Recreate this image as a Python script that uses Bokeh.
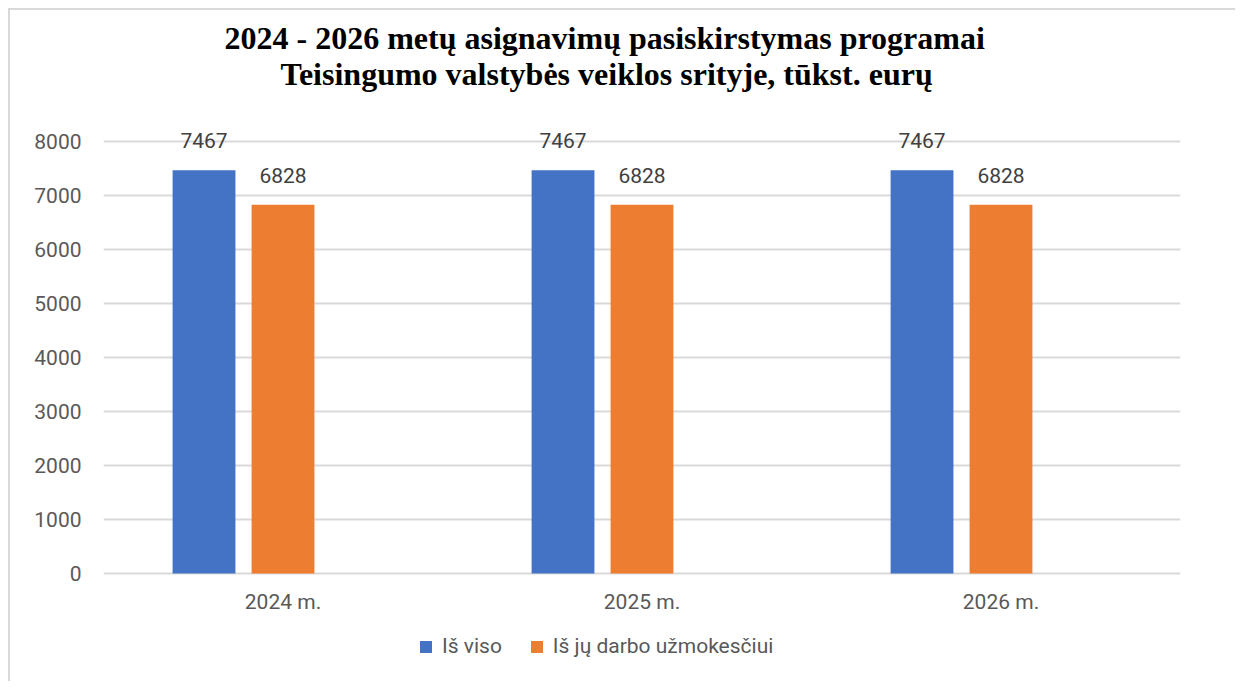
from bokeh.plotting import figure
from bokeh.models import FactorRange, Range1d, FixedTicker, Legend, LegendItem, ColumnDataSource, Title
from bokeh.transform import dodge
from bokeh.core.properties import value
from bokeh.embed import file_html
from bokeh.resources import INLINE

# ---- data ----
years = ["2024 m.", "2025 m.", "2026 m."]
total = [7467, 7467, 7467]
salary = [6828, 6828, 6828]
series_names = ["Iš viso", "Iš jų darbo užmokesčiui"]
y_ticks = [0, 1000, 2000, 3000, 4000, 5000, 6000, 7000, 8000]
title_line1 = "2024 - 2026 metų asignavimų pasiskirstymas programai"
title_line2 = "Teisingumo valstybės veiklos srityje, tūkst. eurų"

BLUE = "#4472C4"
ORANGE = "#ED7D31"
GRID = "#D9D9D9"
TXT = "#595959"
FONT = "Roboto"

# layout (canvas pixels)
H = 673
FRAME_TOP = 101    # frame top (above the 8000 line so data labels are not clipped)
TOP_TICK_Y = 131   # where 8000 sits
ZERO = 563         # where 0 sits
BOTTOM_BORDER = 13
frame_bottom = H - BOTTOM_BORDER
px_per_unit = (ZERO - TOP_TICK_Y) / y_ticks[-1]
y_max = (ZERO - FRAME_TOP) / px_per_unit
y_min = -(frame_bottom - ZERO) / px_per_unit

src = ColumnDataSource(dict(
    year=years, total=total, salary=salary,
    total_lbl=[str(v) for v in total], salary_lbl=[str(v) for v in salary],
))

p = figure(
    width=1227, height=H,
    x_range=FactorRange(*years, range_padding=0),
    y_range=Range1d(y_min, y_max),
    output_backend="svg", toolbar_location=None,
    min_border_left=93, min_border_right=57, min_border_top=FRAME_TOP,
    min_border_bottom=BOTTOM_BORDER,
)
p.styles = {"border-top": "2px solid #D9D9D9", "border-left": "2px solid #D9D9D9",
            "margin-left": "8px", "margin-top": "8px"}
p.outline_line_color = None
p.background_fill_color = "white"
p.border_fill_color = "white"

# title: line 1 is the figure title (outer), line 2 added nearer the frame
p.title.text = title_line1
p.title.align = "left"
p.title.offset = 121
p.title.text_font = "Liberation Serif"
p.title.text_font_style = "bold"
p.title.text_font_size = "32px"
p.title.text_color = "black"
p.title.standoff = -45
t2 = Title(text=title_line2, align="left", offset=177, text_font="Liberation Serif",
           text_font_style="bold", text_font_size="32px", text_color="black", standoff=40)
p.add_layout(t2, "above")

bw = 0.175
r1 = p.vbar(x=dodge("year", -0.22, range=p.x_range), top="total", width=bw,
            source=src, fill_color=BLUE, line_color=None)
r2 = p.vbar(x=dodge("year", 0.0, range=p.x_range), top="salary", width=bw,
            source=src, fill_color=ORANGE, line_color=None)

for off, col, lab in [(-0.22, "total", "total_lbl"), (0.0, "salary", "salary_lbl")]:
    p.text(x=dodge("year", off, range=p.x_range), y=col, text=lab, source=src,
           text_align="center", text_baseline="bottom", y_offset=-22,
           text_font=value(FONT), text_font_size="21px", text_color="#404040")

# axes
p.yaxis.ticker = FixedTicker(ticks=y_ticks)
p.yaxis.axis_line_color = None
p.yaxis.major_tick_line_color = None
p.yaxis.minor_tick_line_color = None
p.yaxis.major_label_text_font = FONT
p.yaxis.major_label_text_font_size = "21px"
p.yaxis.major_label_text_color = TXT
p.yaxis.major_label_standoff = 16

p.xaxis.fixed_location = 0
p.xaxis.axis_line_color = None
p.xaxis.major_tick_line_color = None
p.xaxis.major_label_text_font = FONT
p.xaxis.major_label_text_font_size = "21px"
p.xaxis.major_label_text_color = TXT
p.xaxis.major_label_standoff = 10

p.xgrid.grid_line_color = None
p.ygrid.grid_line_color = GRID
p.ygrid.grid_line_width = 2

legend = Legend(items=[LegendItem(label=series_names[0], renderers=[r1]),
                       LegendItem(label=series_names[1], renderers=[r2])],
                location=(315, 12), orientation="horizontal",
                glyph_width=15, glyph_height=15, label_standoff=9, spacing=27,
                padding=0, margin=0, border_line_color=None, background_fill_alpha=0,
                label_text_font=FONT, label_text_font_size="21px", label_text_color=TXT)
p.add_layout(legend, "center")

open("out.html", "w").write(file_html(p, INLINE))
